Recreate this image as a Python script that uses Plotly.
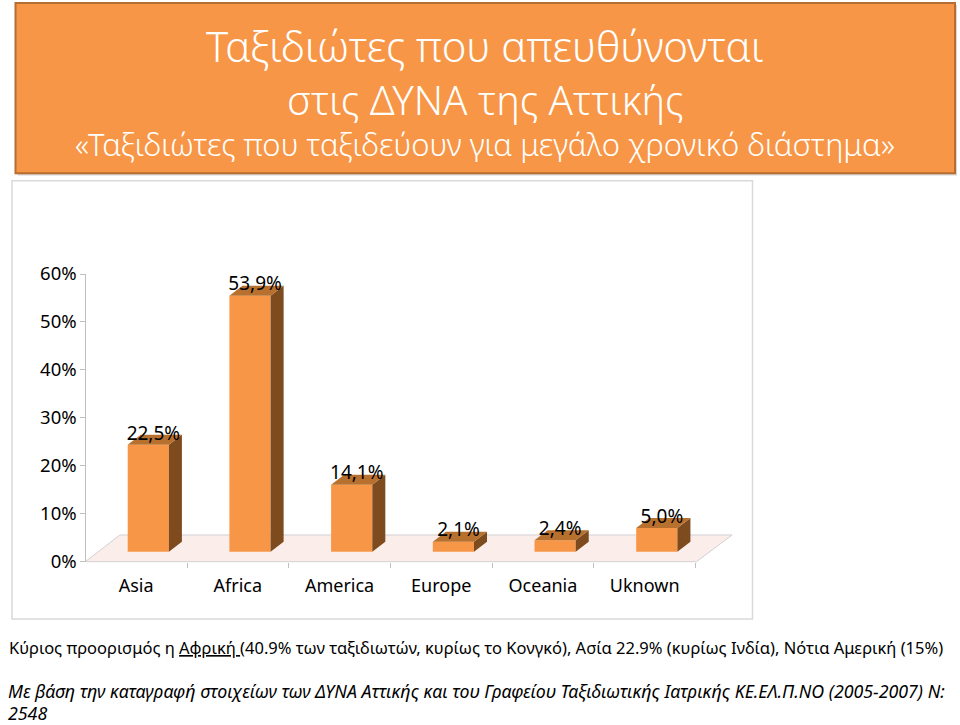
import plotly.graph_objects as go

# ---------------- data ----------------
categories = ["Asia", "Africa", "America", "Europe", "Oceania", "Uknown"]
values = [22.5, 53.9, 14.1, 2.1, 2.4, 5.0]
ytick_values = [0, 10, 20, 30, 40, 50, 60]

title_lines = [
    "Ταξιδιώτες που απευθύνονται",
    "στις ΔΥΝΑ της Αττικής",
    "«Ταξιδιώτες που ταξιδεύουν για μεγάλο χρονικό διάστημα»",
]
note_text = ("Κύριος προορισμός η <u>Αφρική </u>(40.9% των ταξιδιωτών, κυρίως το Κονγκό), "
             "Ασία 22.9% (κυρίως Ινδία), Νότια Αμερική (15%)")
source_lines = ["Με βάση την καταγραφή στοιχείων των ΔΥΝΑ Αττικής και του Γραφείου "
                "Ταξιδιωτικής Ιατρικής ΚΕ.ΕΛ.Π.ΝΟ (2005-2007) N:", "2548"]

# ---------------- styling / geometry ----------------
W, H = 960, 725
def PX(px): return px / W
def PY(py): return 1 - py / H

ORANGE = "#F79646"
SIDE = "#7E4B1F"
TOP = "#B8702F"
FONT = "Noto Sans"

BAR_W = 0.405        # front face width (category units)
BAR_OFF = -0.083     # offset of front face from category center
DEPTH_X = 0.128      # 3D depth (category units)
DEPTH_Y = 2.1        # 3D depth (value units)
X_RANGE = [-0.5, 5.9]
YB_RANGE = [-3, 60]
YB_ZERO_PX, YB_SCALE = 551.7, 4.75
FLOOR_FRONT, FLOOR_BACK = -2.1, 3.52
FLOOR_LX_BACK, FLOOR_RX_FRONT, FLOOR_RX_BACK = -0.159, 5.51, 5.86

xs = list(range(len(categories)))

fig = go.Figure()

# front faces
fig.add_trace(go.Bar(
    x=xs, y=values, width=BAR_W, offset=BAR_OFF,
    marker=dict(color=ORANGE, line=dict(width=0)),
    hoverinfo="skip", showlegend=False, xaxis="x", yaxis="y"))

# side faces and top faces built from the values
sx, sy, tx, ty = [], [], [], []
for i, v in zip(xs, values):
    r = i + BAR_OFF + BAR_W
    l = i + BAR_OFF
    sx += [r, r + DEPTH_X, r + DEPTH_X, r, r, None]
    sy += [0, DEPTH_Y, v + DEPTH_Y, v, 0, None]
    tx += [l, r, r + DEPTH_X, l + DEPTH_X, l, None]
    ty += [v, v, v + DEPTH_Y, v + DEPTH_Y, v, None]
fig.add_trace(go.Scatter(x=sx, y=sy, fill="toself", fillcolor=SIDE, mode="lines",
                         line=dict(width=0, color=SIDE), hoverinfo="skip",
                         showlegend=False, xaxis="x", yaxis="y"))
fig.add_trace(go.Scatter(x=tx, y=ty, fill="toself", fillcolor=TOP, mode="lines",
                         line=dict(width=0, color=TOP), hoverinfo="skip",
                         showlegend=False, xaxis="x", yaxis="y"))

# data labels
labels = [f"{v:.1f}".replace(".", ",") + "%" for v in values]
fig.add_trace(go.Scatter(
    x=[i + BAR_OFF + BAR_W / 2 + 0.05 for i in xs],
    y=[v + DEPTH_Y for v in values],
    mode="text", text=labels, textposition="middle center",
    textfont=dict(family=FONT, size=19, color="#000000"),
    hoverinfo="skip", showlegend=False, cliponaxis=False, xaxis="x", yaxis="y"))

# invisible trace for the value axis with ticks
fig.add_trace(go.Scatter(x=xs, y=values, mode="markers", marker=dict(opacity=0),
                         hoverinfo="skip", showlegend=False, xaxis="x", yaxis="y2"))

# ---------------- layout ----------------
floor_path = (f"M {X_RANGE[0]},{FLOOR_FRONT} L {FLOOR_RX_FRONT},{FLOOR_FRONT} "
              f"L {FLOOR_RX_BACK},{FLOOR_BACK} L {FLOOR_LX_BACK},{FLOOR_BACK} Z")
shapes = [
    # chart frame
    dict(type="rect", xref="paper", yref="paper", x0=PX(12), x1=PX(752.5),
         y0=PY(619), y1=PY(180.7), line=dict(color="#D9D9D9", width=1.5),
         fillcolor="white", layer="below"),
    # floor of the 3D chart
    dict(type="path", xref="x", yref="y", path=floor_path, fillcolor="#FBEEEA",
         line=dict(color="#D0D0D0", width=1), layer="below"),
    # title box shadow
    dict(type="rect", xref="paper", yref="paper", x0=PX(17.5), x1=PX(957),
         y0=PY(175.5), y1=PY(5), line=dict(width=0), fillcolor="rgba(120,120,120,0.3)",
         layer="below"),
    # title box
    dict(type="rect", xref="paper", yref="paper", x0=PX(15.5), x1=PX(955),
         y0=PY(173.3), y1=PY(3), line=dict(color="#B66D31", width=2),
         fillcolor=ORANGE, layer="below"),
]

annotations = []
for txt, yc, sz in zip(title_lines, [45, 99, 144], [41.9, 40.2, 31]):
    annotations.append(dict(text=txt, xref="paper", yref="paper", x=PX(485), y=PY(yc),
                            xanchor="center", yanchor="middle", showarrow=False,
                            font=dict(family=FONT, size=sz, color="white", weight=300)))
annotations.append(dict(text=note_text, xref="paper", yref="paper", x=PX(7), y=PY(647),
                        xanchor="left", yanchor="middle", showarrow=False,
                        font=dict(family=FONT, size=16.5, color="black")))
for txt, yc in zip(source_lines, [691, 713]):
    annotations.append(dict(text="<i>" + txt + "</i>", xref="paper", yref="paper",
                            x=PX(7), y=PY(yc), xanchor="left", yanchor="middle",
                            showarrow=False, borderpad=0,
                            font=dict(family=FONT, size=17.8, color="black")))

fig.update_layout(
    width=W, height=H, margin=dict(l=0, r=0, t=0, b=0, pad=0, autoexpand=False),
    paper_bgcolor="white", plot_bgcolor="rgba(0,0,0,0)",
    showlegend=False, shapes=shapes, annotations=annotations,
    xaxis=dict(domain=[PX(85.3), PX(85.3 + 6.4 * 101.7)], range=X_RANGE,
               anchor="free", position=PY(561.7),
               tickmode="array", tickvals=xs, ticktext=categories,
               ticks="", showline=False, showgrid=False, zeroline=False,
               ticklabelstandoff=11, automargin=False,
               tickfont=dict(family=FONT, size=18, color="black"),
               minor=dict(tickmode="array", tickvals=[i + 0.5 for i in xs],
                          ticks="outside", ticklen=5, tickcolor="#BFBFBF",
                          showgrid=False)),
    yaxis=dict(domain=[PY(YB_ZERO_PX - YB_RANGE[0] * YB_SCALE),
                       PY(YB_ZERO_PX - YB_RANGE[1] * YB_SCALE)],
               range=YB_RANGE, visible=False, anchor="x", automargin=False),
    yaxis2=dict(domain=[PY(561.7), PY(274)], range=[0, 60], autorange=False,
                anchor="free", position=PX(85.3), automargin=False,
                tickmode="array", tickvals=ytick_values,
                ticktext=[f"{v}%" for v in ytick_values],
                ticks="outside", ticklen=5, tickcolor="#BFBFBF",
                showline=True, linecolor="#BFBFBF", linewidth=1,
                showgrid=False, zeroline=False,
                tickfont=dict(family=FONT, size=18.5, color="black")),
)

fig.write_html("out.html")
